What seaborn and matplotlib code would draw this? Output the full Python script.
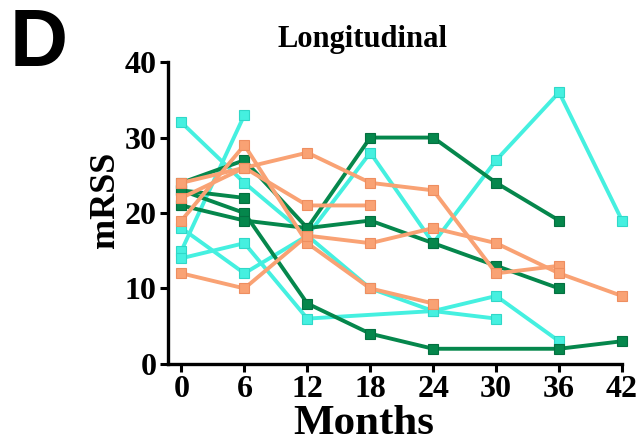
import numpy as np
import pandas as pd
import matplotlib
matplotlib.use("Agg")
import matplotlib.pyplot as plt
import seaborn as sns

months = [0, 6, 12, 18, 24, 30, 36, 42]
nan = np.nan

# dark green series
green_1 = [24, 27, 18, 30, 30, 24, 19, nan]
green_2 = [23, 22, nan, nan, nan, nan, nan, nan]
green_3 = [23, 20, 8, 4, 2, nan, 2, 3]
green_4 = [21, 19, 18, 19, 16, 13, 10, nan]

# turquoise series
cyan_1 = [32, 24, 17, 10, 7, 6, nan, nan]
cyan_2 = [15, 33, nan, nan, nan, nan, nan, nan]
cyan_3 = [14, 16, 6, nan, 7, 9, 3, nan]
cyan_4 = [18, 12, 17, 28, 16, 27, 36, 19]
cyan_5 = [21, nan, nan, nan, nan, nan, nan, nan]

# salmon series
orange_1 = [19, 29, 16, 10, 8, nan, nan, nan]
orange_2 = [24, 26, 28, 24, 23, 12, 13, nan]
orange_3 = [22, 26, 21, 21, nan, nan, nan, nan]
orange_4 = [12, 10, 17, 16, 18, 16, 12, 9]

groups = {
    "cyan": [cyan_1, cyan_2, cyan_3, cyan_4, cyan_5],
    "green": [green_1, green_2, green_3, green_4],
    "orange": [orange_1, orange_2, orange_3, orange_4],
}
colors = {"green": "#05874C", "cyan": "#45F0E0", "orange": "#F9A274"}
edges = {"green": "#047040", "cyan": "#30D8C8", "orange": "#EE8E60"}

rows = []
for g, series in groups.items():
    for i, s in enumerate(series):
        for m, v in zip(months, s):
            if not np.isnan(v):
                rows.append({"group": g, "subject": f"{g}{i}", "month": m, "mrss": v})
df = pd.DataFrame(rows)

sns.set_style("ticks")
plt.rcParams["font.family"] = ["Liberation Serif", "DejaVu Serif"]
plt.rcParams["font.weight"] = "bold"
plt.rcParams["text.color"] = "black"
plt.rcParams["axes.labelcolor"] = "black"
plt.rcParams["xtick.color"] = "black"
plt.rcParams["ytick.color"] = "black"

fig = plt.figure(figsize=(6.38, 4.47), dpi=100)
ax = fig.add_axes([0.263, 0.186, 0.712, 0.675])

for g in ["cyan", "green", "orange"]:
    sub = df[df.group == g]
    for subj, d in sub.groupby("subject", sort=False):
        sns.lineplot(data=d, x="month", y="mrss", ax=ax, color=colors[g],
                     marker="s", markersize=6.8, linewidth=2.8,
                     markeredgecolor=edges[g], markeredgewidth=0.8,
                     estimator=None, clip_on=False, legend=False)

ax.set_xlim(-1.3, 42)
ax.set_ylim(0, 40)
ax.set_xticks(months)
ax.set_yticks([0, 10, 20, 30, 40])
ax.tick_params(axis="both", direction="out", length=6, width=2.2,
               labelsize=23, pad=2, color="black", labelcolor="black")
for lab in ax.get_xticklabels() + ax.get_yticklabels():
    lab.set_fontweight("bold")
for sp in ["top", "right"]:
    ax.spines[sp].set_visible(False)
for sp in ["left", "bottom"]:
    ax.spines[sp].set_linewidth(2.4)
    ax.spines[sp].set_color("black")

ax.set_xlabel("Months", fontsize=31, fontweight="bold", color="black")
ax.xaxis.set_label_coords(0.432, -0.135)
ax.set_ylabel("mRSS", fontsize=26, fontweight="bold", color="black")
ax.yaxis.set_label_coords(-0.1, 0.545)

fig.text(362 / 638, 1 - 40 / 447, "Longitudinal", ha="center", va="center",
         fontsize=22, fontweight="bold", color="black")
fig.text(10 / 638, 1 - 45 / 447, "D", ha="left", va="center", color="black",
         fontsize=58, fontweight="bold", family=["Liberation Sans", "DejaVu Sans"])

fig.savefig("out.png", dpi=100)
